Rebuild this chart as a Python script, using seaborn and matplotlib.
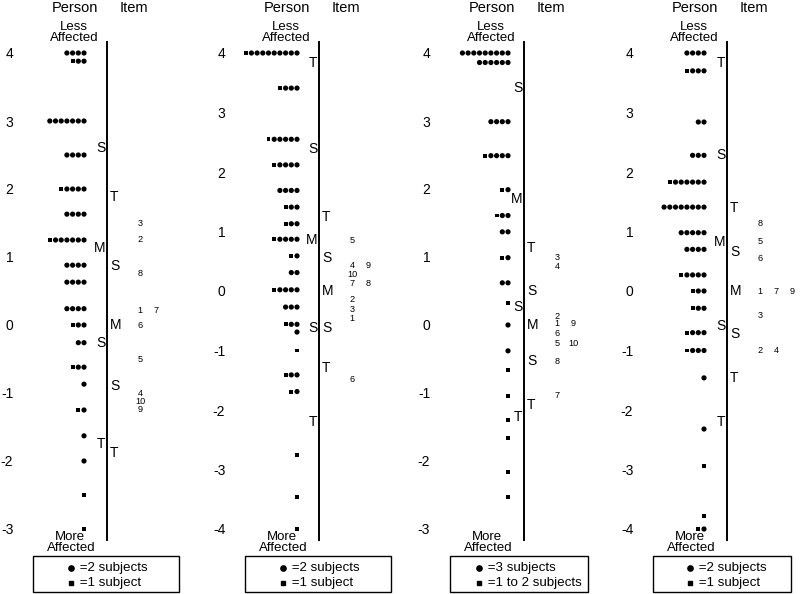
import pandas as pd
import matplotlib.pyplot as plt
import seaborn as sns
from matplotlib.lines import Line2D
from matplotlib.patches import Rectangle

# ---------------- data ----------------
# person rows: logit level, number of circles, number of squares
p1_row_y = [4.0, 3.88, 3.0, 2.5, 2.0, 1.63, 1.25, 0.88, 0.63, 0.24, 0.0,
            -0.26, -0.62, -0.87, -1.25, -1.63, -2.0, -2.5, -3.0]
p1_circles = [4, 2, 7, 4, 4, 4, 6, 4, 4, 4, 2, 2, 2, 1, 1, 1, 1, 0, 0]
p1_squares = [0, 1, 0, 0, 1, 0, 1, 0, 0, 0, 1, 0, 1, 0, 1, 0, 0, 1, 1]
p1_person_lab = ['S', 'M', 'S', 'T']
p1_person_y = [2.6, 1.13, -0.26, -1.75]
p1_istat_lab = ['T', 'S', 'M', 'S', 'T']
p1_istat_y = [1.88, 0.87, 0.0, -0.9, -1.88]
p1_items = ['3', '2', '8', '1', '7', '6', '5', '4', '10', '9']
p1_items_y = [1.5, 1.25, 0.75, 0.22, 0.22, 0.0, -0.5, -1.0, -1.12, -1.25]
p1_legend = ['=2 subjects', '=1 subject']

p2_row_y = [4.0, 3.41, 2.55, 2.12, 1.69, 1.41, 1.13, 0.87, 0.59, 0.31, 0.02,
            -0.27, -0.56, -0.69, -1.0, -1.41, -1.69, -2.75, -3.46, -4.0]
p2_circles = [9, 3, 5, 4, 4, 2, 2, 4, 1, 2, 4, 3, 2, 1, 0, 2, 1, 0, 0, 0]
p2_squares = [1, 1, 1, 1, 0, 1, 1, 1, 1, 0, 1, 0, 1, 0, 1, 1, 1, 1, 1, 1]
p2_person_lab = ['T', 'S', 'M', 'S', 'T']
p2_person_y = [3.83, 2.39, 0.85, -0.63, -2.2]
p2_istat_lab = ['T', 'S', 'M', 'S', 'T']
p2_istat_y = [1.25, 0.55, 0.0, -0.63, -1.3]
p2_items = ['5', '4', '9', '10', '7', '8', '2', '3', '1', '6']
p2_items_y = [0.85, 0.43, 0.43, 0.27, 0.12, 0.12, -0.15, -0.31, -0.46, -1.48]
p2_legend = ['=2 subjects', '=1 subject']

p3_row_y = [4.0, 3.86, 2.99, 2.49, 1.99, 1.61, 1.37, 0.99, 0.62, 0.32, 0.0,
            -0.38, -0.66, -1.04, -1.4, -1.66, -2.16, -2.53]
p3_circles = [9, 6, 4, 4, 1, 2, 2, 1, 2, 0, 1, 1, 0, 0, 0, 0, 0, 0]
p3_squares = [0, 0, 0, 1, 1, 1, 0, 1, 0, 1, 0, 0, 1, 1, 1, 1, 1, 1]
p3_person_lab = ['S', 'M', 'S', 'T']
p3_person_y = [3.48, 1.85, 0.27, -1.36]
p3_istat_lab = ['T', 'S', 'M', 'S', 'T']
p3_istat_y = [1.13, 0.5, 0.0, -0.53, -1.17]
p3_items = ['3', '4', '2', '1', '9', '6', '5', '10', '8', '7']
p3_items_y = [1.0, 0.86, 0.13, 0.02, 0.02, -0.13, -0.27, -0.27, -0.54, -1.03]
p3_legend = ['=3 subjects', '=1 to 2 subjects']

p4_row_y = [4.0, 3.7, 2.84, 2.28, 1.83, 1.41, 0.98, 0.7, 0.27, 0.0, -0.29,
            -0.7, -1.0, -1.46, -2.32, -2.94, -3.78, -4.0]
p4_circles = [4, 3, 2, 3, 6, 8, 5, 4, 4, 2, 2, 3, 3, 1, 1, 0, 0, 1]
p4_squares = [0, 1, 0, 0, 1, 0, 0, 0, 1, 1, 1, 1, 1, 0, 0, 1, 1, 1]
p4_person_lab = ['T', 'S', 'M', 'S', 'T']
p4_person_y = [3.83, 2.28, 0.82, -0.58, -2.2]
p4_istat_lab = ['T', 'S', 'M', 'S', 'T']
p4_istat_y = [1.4, 0.66, 0.0, -0.73, -1.46]
p4_items = ['8', '5', '6', '1', '7', '9', '3', '2', '4']
p4_items_y = [1.13, 0.84, 0.54, 0.0, 0.0, 0.0, -0.42, -1.0, -1.0]
p4_legend = ['=2 subjects', '=1 subject']

panels = [
    dict(rows=p1_row_y, circ=p1_circles, sq=p1_squares, plab=p1_person_lab, py=p1_person_y,
         ilab=p1_istat_lab, iy=p1_istat_y, items=p1_items, items_y=p1_items_y, legend=p1_legend,
         ticks=list(range(-3, 5)), axis=107, gap=23, box_w=146, leg_off=-36),
    dict(rows=p2_row_y, circ=p2_circles, sq=p2_squares, plab=p2_person_lab, py=p2_person_y,
         ilab=p2_istat_lab, iy=p2_istat_y, items=p2_items, items_y=p2_items_y, legend=p2_legend,
         ticks=list(range(-4, 5)), axis=119, gap=22, box_w=146, leg_off=-36),
    dict(rows=p3_row_y, circ=p3_circles, sq=p3_squares, plab=p3_person_lab, py=p3_person_y,
         ilab=p3_istat_lab, iy=p3_istat_y, items=p3_items, items_y=p3_items_y, legend=p3_legend,
         ticks=list(range(-3, 5)), axis=124, gap=16, box_w=138, leg_off=-45),
    dict(rows=p4_row_y, circ=p4_circles, sq=p4_squares, plab=p4_person_lab, py=p4_person_y,
         ilab=p4_istat_lab, iy=p4_istat_y, items=p4_items, items_y=p4_items_y, legend=p4_legend,
         ticks=list(range(-4, 5)), axis=127, gap=23, box_w=138, leg_off=-37),
]

# ---------------- drawing ----------------
sns.set_theme(style='white')
plt.rcParams['font.family'] = ['Liberation Sans', 'DejaVu Sans']
plt.rcParams['text.color'] = 'black'

W, H = 800, 594
TOP, BOT = 42, 540      # pixel rows of the vertical scale
SP = 5.7                # spacing between person markers (px)

fig = plt.figure(figsize=(8, 5.94), dpi=100)


def fy(py):
    return 1 - py / H


for i, p in enumerate(panels):
    x0 = 200 * i
    ax = fig.add_axes([x0 / W, fy(BOT), 200 / W, (BOT - TOP) / H])
    lo, hi = min(p['ticks']), max(p['ticks'])
    unit = (529 - 53) / (hi - lo)
    ext = 11 / unit

    # expand each person row into its markers, right to left, square last
    right = p['axis'] - p['gap']
    pts = []
    for y, nc, ns in zip(p['rows'], p['circ'], p['sq']):
        for k in range(nc):
            pts.append((right - k * SP, y, 'circle'))
        for k in range(ns):
            pts.append((right - (nc + k) * SP, y, 'square'))
    df = pd.DataFrame(pts, columns=['x', 'y', 'kind'])
    sns.scatterplot(data=df, x='x', y='y', style='kind', size='kind',
                    markers={'circle': 'o', 'square': 's'},
                    sizes={'circle': 14, 'square': 8},
                    color='black', edgecolor='none', linewidth=0,
                    legend=False, ax=ax)

    ax.set_xlim(0, 200)
    ax.set_ylim(lo - ext, hi + ext)
    ax.patch.set_alpha(0)
    for side in ['top', 'right', 'bottom']:
        ax.spines[side].set_visible(False)
    ax.spines['left'].set_position(('data', p['axis']))
    ax.spines['left'].set_linewidth(1.4)
    ax.spines['left'].set_color('black')
    ax.set_xticks([])
    ax.set_yticks(p['ticks'])
    ax.set_yticklabels([str(t) for t in p['ticks']])
    ax.tick_params(axis='y', direction='inout', length=4, width=0.8,
                   pad=65.5, labelsize=10, colors='black')
    ax.set_xlabel('')
    ax.set_ylabel('')

    # person / item summary marks
    for lab, y in zip(p['plab'], p['py']):
        ax.text(p['axis'] - 1.5, y, lab, ha='right', va='center', fontsize=10)
    for lab, y in zip(p['ilab'], p['iy']):
        ax.text(p['axis'] + 3, y, lab, ha='left', va='center', fontsize=10)

    # item numbers, items sharing a level go side by side
    seen = {}
    for lab, y in zip(p['items'], p['items_y']):
        col = seen.get(y, 0)
        seen[y] = col + 1
        ax.text(p['axis'] + 33 + 16 * col, y, lab, ha='center', va='center', fontsize=6.6)

    # headers and end labels
    ax_px = x0 + p['axis']
    fig.text((ax_px - 32) / W, fy(8), 'Person', ha='center', va='center', fontsize=10.5)
    fig.text((ax_px + 27) / W, fy(8), 'Item', ha='center', va='center', fontsize=10.5)
    fig.text((ax_px - 33) / W, fy(27), 'Less', ha='center', va='center', fontsize=9.5)
    fig.text((ax_px - 33) / W, fy(38), 'Affected', ha='center', va='center', fontsize=9.5)
    fig.text((ax_px - 37) / W, fy(537), 'More', ha='center', va='center', fontsize=9.5)
    fig.text((ax_px - 36) / W, fy(548), 'Affected', ha='center', va='center', fontsize=9.5)

    # legend box
    fig.add_artist(Rectangle(((ax_px - 74) / W, fy(592)), p['box_w'] / W, 36 / H,
                             transform=fig.transFigure, fill=False,
                             edgecolor='black', linewidth=1))
    mx = (ax_px + p['leg_off']) / W
    fig.add_artist(Line2D([mx], [fy(568)], marker='o', markersize=3.8, color='black',
                          linestyle='none', transform=fig.transFigure))
    fig.add_artist(Line2D([mx], [fy(583)], marker='s', markersize=2.8, color='black',
                          linestyle='none', transform=fig.transFigure))
    fig.text(mx + 5 / W, fy(568), ' ' + p['legend'][0], ha='left', va='center', fontsize=9.6)
    fig.text(mx + 5 / W, fy(583), ' ' + p['legend'][1], ha='left', va='center', fontsize=9.6)

fig.savefig('out.png', dpi=100, facecolor='white')
